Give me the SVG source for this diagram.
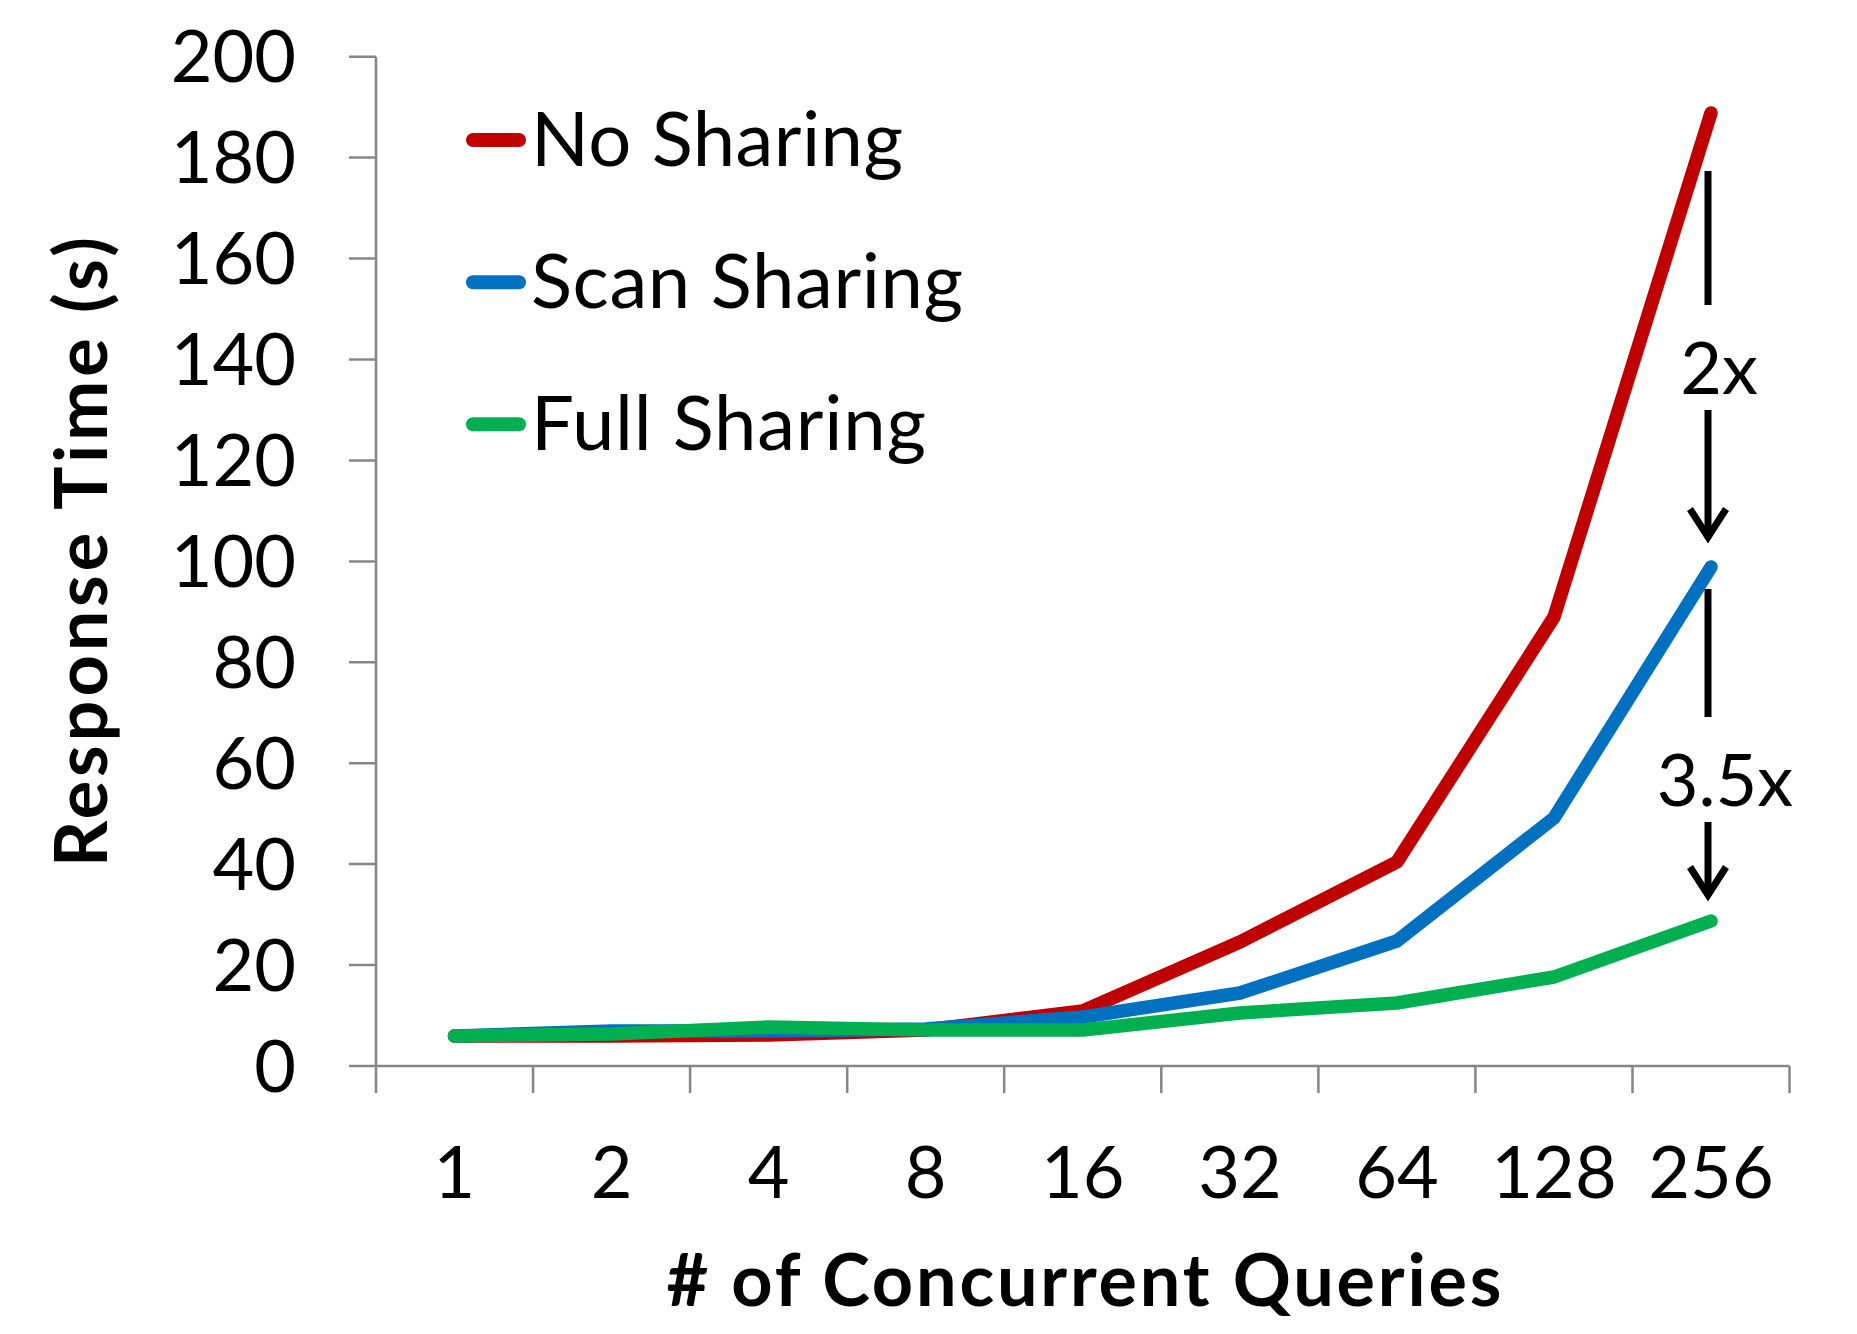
<svg xmlns="http://www.w3.org/2000/svg" width="1857" height="1334" viewBox="0 0 1857 1334">
  <style>
    .axis { stroke: #868686; stroke-width: 2.5; fill: none; }
    .tick { font-family: Lato, "Liberation Sans", sans-serif; font-size: 72px; fill: #000; }
    .ylab { text-anchor: end; }
    .xlab { text-anchor: middle; }
    .title { font-family: Lato, "Liberation Sans", sans-serif; font-size: 72px; font-weight: bold; fill: #000; text-anchor: middle; }
    .legend { font-family: Lato, "Liberation Sans", sans-serif; font-size: 76px; fill: #000; }
    .series { fill: none; stroke-width: 13.5; stroke-linecap: round; stroke-linejoin: round; }
    .key { stroke-width: 14; stroke-linecap: round; }
    .red { stroke: #C00000; }
    .blue { stroke: #0070C0; }
    .green { stroke: #00B050; }
    .note { stroke: #000; stroke-width: 7; fill: none; }
    .ratio { font-family: Lato, "Liberation Sans", sans-serif; font-size: 72px; fill: #000; text-anchor: middle; }
  </style>
  <rect width="1857" height="1334" fill="#fff"/>

  <!-- axes and ticks -->
  <g id="axes">
    <path class="axis" d="M376,56.7 V1066 H1789.5"/>
    <path class="axis" d="M349,56.7 H376 M349,157.6 H376 M349,258.6 H376 M349,359.5 H376 M349,460.4 H376 M349,561.4 H376 M349,662.3 H376 M349,763.2 H376 M349,864.1 H376 M349,965.1 H376 M349,1066 H376"/>
    <path class="axis" d="M376,1066 V1093 M533.1,1066 V1093 M690.1,1066 V1093 M847.2,1066 V1093 M1004.2,1066 V1093 M1161.3,1066 V1093 M1318.4,1066 V1093 M1475.4,1066 V1093 M1632.5,1066 V1093 M1789.5,1066 V1093"/>
  </g>

  <g id="y-labels" class="tick ylab">
    <text x="296" y="82.2">200</text>
    <text x="296" y="183.1">180</text>
    <text x="296" y="284.1">160</text>
    <text x="296" y="385">140</text>
    <text x="296" y="485.9">120</text>
    <text x="296" y="586.9">100</text>
    <text x="296" y="687.8">80</text>
    <text x="296" y="788.7">60</text>
    <text x="296" y="889.6">40</text>
    <text x="296" y="990.6">20</text>
    <text x="296" y="1091.5">0</text>
  </g>

  <g id="x-labels" class="tick xlab">
    <text x="454.5" y="1198">1</text>
    <text x="611.6" y="1198">2</text>
    <text x="768.7" y="1198">4</text>
    <text x="925.7" y="1198">8</text>
    <text x="1082.8" y="1198">16</text>
    <text x="1239.9" y="1198">32</text>
    <text x="1396.9" y="1198">64</text>
    <text x="1554" y="1198">128</text>
    <text x="1711" y="1198">256</text>
  </g>

  <g id="axis-titles">
    <text class="title" x="1084" y="1306" textLength="835" lengthAdjust="spacing"># of Concurrent Queries</text>
    <text class="title" transform="translate(107,552) rotate(-90)" x="0" y="0" textLength="630" lengthAdjust="spacing">Response Time (s)</text>
  </g>

  <!-- data series -->
  <g id="series">
    <polyline id="no-sharing" class="series red" points="454.5,1036 611.6,1036 768.7,1035 925.7,1030 1082.8,1011 1239.9,942 1396.9,862 1554,617 1711,113"/>
    <polyline id="scan-sharing" class="series blue" points="454.5,1036 611.6,1031 768.7,1031 925.7,1029 1082.8,1017 1239.9,993 1396.9,941 1554,818 1711,567"/>
    <polyline id="full-sharing" class="series green" points="454.5,1036 611.6,1034 768.7,1027 925.7,1030 1082.8,1030 1239.9,1013 1396.9,1003 1554,977 1711,921"/>
  </g>

  <!-- legend -->
  <g id="legend">
    <g id="legend-no-sharing">
      <line class="key red" x1="473" y1="140" x2="519" y2="140"/>
      <text class="legend" x="531" y="166" textLength="372" lengthAdjust="spacing">No Sharing</text>
    </g>
    <g id="legend-scan-sharing">
      <line class="key blue" x1="473" y1="282.3" x2="519" y2="282.3"/>
      <text class="legend" x="531" y="308" textLength="432" lengthAdjust="spacing">Scan Sharing</text>
    </g>
    <g id="legend-full-sharing">
      <line class="key green" x1="473" y1="424.3" x2="519" y2="424.3"/>
      <text class="legend" x="531" y="450" textLength="395" lengthAdjust="spacing">Full Sharing</text>
    </g>
  </g>

  <!-- speedup annotations -->
  <g id="speedup-2x">
    <line class="note" x1="1708" y1="171" x2="1708" y2="305"/>
    <text class="ratio" x="1719" y="394">2x</text>
    <line class="note" x1="1708" y1="410" x2="1708" y2="536"/>
    <polyline class="note" points="1690,509 1708,537 1726,509" stroke-linejoin="miter"/>
  </g>
  <g id="speedup-3-5x">
    <line class="note" x1="1708" y1="589" x2="1708" y2="717"/>
    <text class="ratio" x="1725" y="806">3.5x</text>
    <line class="note" x1="1708" y1="822" x2="1708" y2="894"/>
    <polyline class="note" points="1690,867 1708,895 1726,867" stroke-linejoin="miter"/>
  </g>
</svg>
